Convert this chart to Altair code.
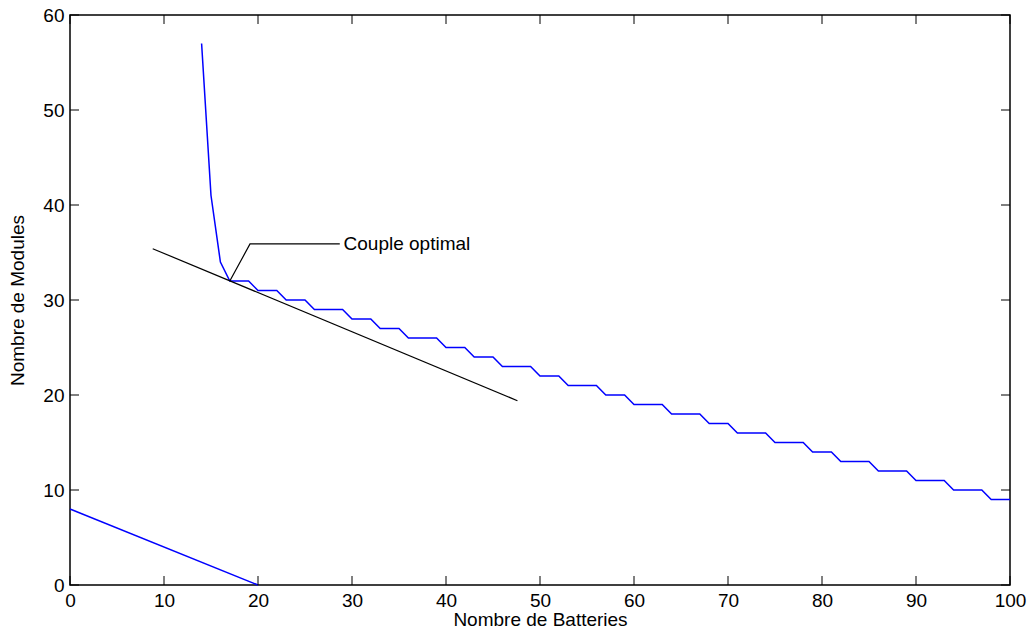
import altair as alt
import pandas as pd

# Blue curve: number of modules for each number of batteries
batteries = list(range(14, 101))
modules = [57, 41, 34,
           32, 32, 32,
           31, 31, 31,
           30, 30, 30,
           29, 29, 29, 29,
           28, 28, 28,
           27, 27, 27,
           26, 26, 26, 26,
           25, 25, 25,
           24, 24, 24,
           23, 23, 23, 23,
           22, 22, 22,
           21, 21, 21, 21,
           20, 20, 20,
           19, 19, 19, 19,
           18, 18, 18, 18,
           17, 17, 17,
           16, 16, 16, 16,
           15, 15, 15, 15,
           14, 14, 14,
           13, 13, 13, 13,
           12, 12, 12, 12,
           11, 11, 11, 11,
           10, 10, 10, 10,
           9, 9, 9]

# Lower blue constraint line
low_x = [0, 20]
low_y = [8, 0]

# Black tangent line
tan_x = [8.8, 47.6]
tan_y = [35.4, 19.4]

# Annotation leader
ann_x = [17, 19.15, 28.7]
ann_y = [32, 35.9, 35.9]
ann_text = "Couple optimal"
ann_pos = (29.1, 35.9)

x_ticks = list(range(0, 101, 10))
y_ticks = list(range(0, 61, 10))

W, H = 940, 570
FONT = "Liberation Sans"
FS = 19

xs = alt.Scale(domain=[0, 100], nice=False, zero=False)
ys = alt.Scale(domain=[0, 60], nice=False, zero=False)

df_curve = pd.DataFrame({"b": batteries, "m": modules})
df_low = pd.DataFrame({"b": low_x, "m": low_y})
df_tan = pd.DataFrame({"b": tan_x, "m": tan_y})
df_ann = pd.DataFrame({"b": ann_x, "m": ann_y, "o": [0, 1, 2]})
df_txt = pd.DataFrame({"b": [ann_pos[0]], "m": [ann_pos[1]], "t": [ann_text]})
df_xt = pd.DataFrame({"v": x_ticks})
df_yt = pd.DataFrame({"v": y_ticks})

x_axis = alt.Axis(title="Nombre de Batteries", values=x_ticks, ticks=False, domain=False,
                  grid=False, labelFontSize=FS, labelFont=FONT, labelPadding=6,
                  labelFlush=False, labelOverlap=False,
                  titleFontSize=FS, titleFont=FONT, titleFontWeight="normal",
                  titlePadding=0, labelColor="black", titleColor="black", format="d")
y_axis = alt.Axis(title="Nombre de Modules", values=y_ticks, ticks=False, domain=False,
                  grid=False, labelFontSize=FS, labelFont=FONT, labelPadding=6,
                  labelFlush=False, labelOverlap=False,
                  titleFontSize=FS, titleFont=FONT, titleFontWeight="normal",
                  titlePadding=15, labelColor="black", titleColor="black", format="d")

curve = alt.Chart(df_curve).mark_line(color="#0000ff", strokeWidth=1.5).encode(
    x=alt.X("b:Q", scale=xs, axis=x_axis),
    y=alt.Y("m:Q", scale=ys, axis=y_axis),
)
low = alt.Chart(df_low).mark_line(color="#0000ff", strokeWidth=1.5).encode(
    x=alt.X("b:Q", scale=xs), y=alt.Y("m:Q", scale=ys))
tan = alt.Chart(df_tan).mark_line(color="black", strokeWidth=1.2).encode(
    x=alt.X("b:Q", scale=xs), y=alt.Y("m:Q", scale=ys))
ann = alt.Chart(df_ann).mark_line(color="black", strokeWidth=1.2).encode(
    x=alt.X("b:Q", scale=xs), y=alt.Y("m:Q", scale=ys), order="o:Q")
txt = alt.Chart(df_txt).mark_text(align="left", baseline="middle", font=FONT,
                                  fontSize=FS, color="black").encode(
    x=alt.X("b:Q", scale=xs), y=alt.Y("m:Q", scale=ys), text="t:N")

TL = 9
bt = alt.Chart(df_xt).mark_rule(color="black", strokeWidth=1).encode(
    x=alt.X("v:Q", scale=xs), y=alt.value(H), y2=alt.value(H - TL))
tt = alt.Chart(df_xt).mark_rule(color="black", strokeWidth=1).encode(
    x=alt.X("v:Q", scale=xs), y=alt.value(0), y2=alt.value(TL))
lt = alt.Chart(df_yt).mark_rule(color="black", strokeWidth=1).encode(
    y=alt.Y("v:Q", scale=ys), x=alt.value(0), x2=alt.value(TL))
rt = alt.Chart(df_yt).mark_rule(color="black", strokeWidth=1).encode(
    y=alt.Y("v:Q", scale=ys), x=alt.value(W), x2=alt.value(W - TL))

chart = alt.layer(curve, low, tan, ann, txt, bt, tt, lt, rt).properties(
    width=W, height=H,
    autosize=alt.AutoSizeParams(type="none"),
    padding={"left": 70, "top": 15, "right": 20, "bottom": 52},
    background="white",
).configure_view(stroke="black", strokeWidth=1.5)

chart.save("out.html", embed_options={"renderer": "svg", "actions": False})
